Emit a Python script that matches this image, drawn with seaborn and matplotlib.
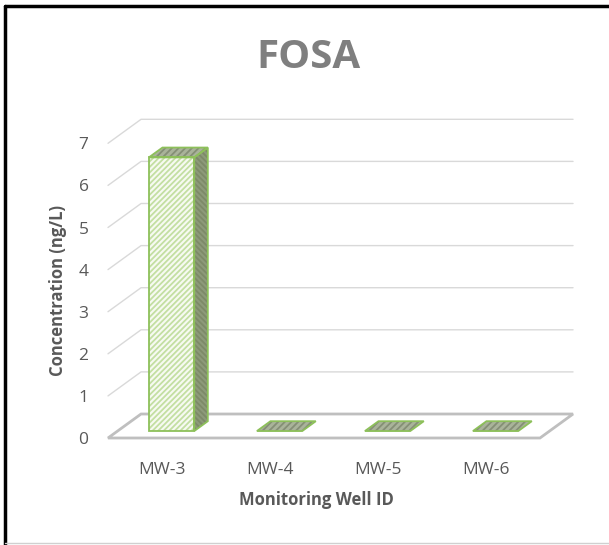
import matplotlib
matplotlib.use("Agg")
import matplotlib.pyplot as plt
import matplotlib.transforms as mtransforms
from matplotlib.patches import Polygon, Rectangle
from matplotlib.lines import Line2D
import seaborn as sns

# chart data
wells = ["MW-3", "MW-4", "MW-5", "MW-6"]
concentration = [6.5, 0.0, 0.0, 0.0]
y_ticks = [0, 1, 2, 3, 4, 5, 6, 7]

title = "FOSA"
x_label = "Monitoring Well ID"
y_label = "Concentration (ng/L)"

sns.set_style("white")
plt.rcParams['font.family'] = ['Open Sans', 'DejaVu Sans']
plt.rcParams['hatch.linewidth'] = 1.3

W, H = 609, 545
fig = plt.figure(figsize=(W / 100, H / 100), dpi=100)

# axes box in pixels (left, top, right, bottom)
L, T, R, B = 108, 110, 580, 445
ax = fig.add_axes([L / W, 1 - B / H, (R - L) / W, (B - T) / H])

# 3d look: depth of the floor in data units
fdx, fdy = 0.306, 0.57
front_frac, back_frac = 0.29, 0.70
ox, oy = front_frac * fdx, front_frac * fdy
bdx, bdy = (back_frac - front_frac) * fdx, (back_frac - front_frac) * fdy
x_left, x_right = -0.5, len(wells) - 0.5

grid_col = "#d9d9d9"
floor_col = "#bfbfbf"
edge_green = "#8dc05a"
text_col = "#595959"

# back wall + side wall gridlines
for v in y_ticks[1:]:
    ax.plot([x_left, x_left + fdx, x_right + fdx], [v, v + fdy, v + fdy],
            color=grid_col, lw=1, zorder=1, clip_on=False)

# floor
ax.add_patch(Polygon([(x_left, 0), (x_right, 0), (x_right + fdx, fdy), (x_left + fdx, fdy)],
                     closed=True, facecolor="white", edgecolor=floor_col, lw=2,
                     zorder=2, clip_on=False))

# front faces from seaborn
sns.barplot(x=wells, y=concentration, width=0.42, color="#f7fbf1", edgecolor="#c3dfa2",
            linewidth=0, hatch="//////", ax=ax, zorder=5)

shift = mtransforms.Affine2D().translate(ox, oy) + ax.transData
for p in list(ax.patches):
    if not isinstance(p, Rectangle):
        continue
    p.set_transform(shift)
    p.set_clip_on(False)
    x0, w, h = p.get_x() + ox, p.get_width(), p.get_height()
    x1 = x0 + w
    y0 = oy
    # side face
    if h > 0:
        side = [(x1, y0), (x1 + bdx, y0 + bdy), (x1 + bdx, y0 + h + bdy), (x1, y0 + h)]
        ax.add_patch(Polygon(side, closed=True, facecolor="#8d9a7a", edgecolor="#7d8a68",
                             lw=0, hatch="\\\\\\\\\\\\", zorder=4, clip_on=False))
        ax.add_patch(Polygon(side, closed=True, fill=False, edgecolor=edge_green,
                             lw=1.3, zorder=6, clip_on=False))
        ax.add_patch(Rectangle((x0, y0), w, h, fill=False, edgecolor=edge_green,
                               lw=1.3, zorder=6, clip_on=False))
    # top face
    top = [(x0, y0 + h), (x1, y0 + h), (x1 + bdx, y0 + h + bdy), (x0 + bdx, y0 + h + bdy)]
    ax.add_patch(Polygon(top, closed=True, facecolor="#a9b39a", edgecolor="#858f76",
                         lw=0, hatch="/////", zorder=4, clip_on=False))
    ax.add_patch(Polygon(top, closed=True, fill=False, edgecolor=edge_green,
                         lw=1.3, zorder=6, clip_on=False))

ax.set_xlim(x_left, x_left + (R - L) / 108)
ax.set_ylim((438 - B) / 42.1, (438 - T) / 42.1)
ax.set_yticks(y_ticks)
ax.set_yticklabels([str(t) for t in y_ticks])
ax.tick_params(axis="y", length=0, pad=14, labelsize=12.5, labelcolor=text_col)
ax.tick_params(axis="x", length=0, pad=12, labelsize=12.5, labelcolor=text_col)
ax.set_xlabel("")
ax.set_ylabel("")
ax.grid(False)
sns.despine(ax=ax, left=True, bottom=True)
ax.patch.set_alpha(0)

# titles
fig.text(308 / W, 1 - 58 / H, title, ha="center", va="center", fontsize=29,
         fontweight="bold", color="#7f7f7f")
fig.text(316 / W, 1 - 500 / H, x_label, ha="center", va="center", fontsize=12,
         fontweight="bold", color=text_col)
fig.text(58 / W, 1 - 291 / H, y_label, ha="center", va="center", fontsize=12,
         fontweight="bold", color=text_col, rotation=90)

# chart frame (cropped screenshot look)
fig.add_artist(Line2D([5 / W, 5 / W], [0, 1 - 6 / H], color="black", lw=2.5,
                      transform=fig.transFigure))
fig.add_artist(Line2D([5 / W, 1], [1 - 6 / H, 1 - 6 / H], color="black", lw=2.5,
                      transform=fig.transFigure))
fig.add_artist(Line2D([5 / W, 1], [1 - 543 / H, 1 - 543 / H], color="#d0d0d0", lw=1,
                      transform=fig.transFigure))

fig.savefig("out.png", dpi=100, facecolor="white")
